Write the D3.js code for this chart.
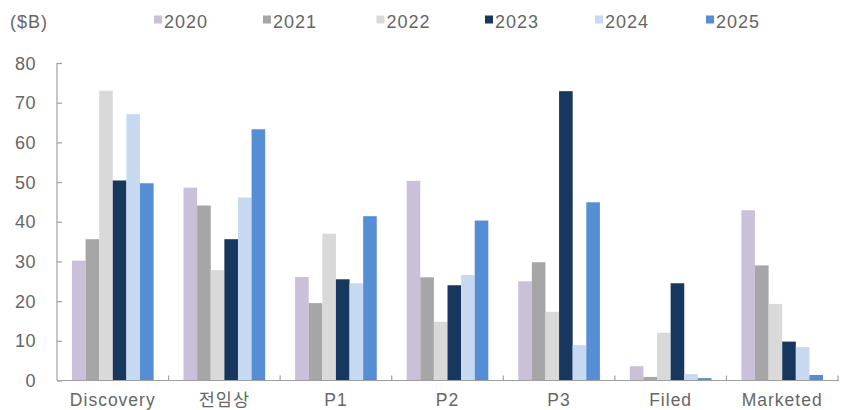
<!DOCTYPE html>
<html><head><meta charset="utf-8">
<script src="https://cdn.jsdelivr.net/npm/d3@7"></script>
<style>
html,body{margin:0;padding:0;background:#fff;}
svg{display:block;}
text{font-family:"Liberation Sans","Noto Sans CJK KR",Arial,sans-serif;fill:#666666;}
</style></head>
<body>
<svg id="chart" width="841" height="410"></svg>
<script>
const categories = ["Discovery","전임상","P1","P2","P3","Filed","Marketed"];
const years = ["2020","2021","2022","2023","2024","2025"];
const v2020 = [30.2,48.6,26.1,50.3,25.0,3.6,42.9];
const v2021 = [35.6,44.1,19.5,26.0,29.8,0.9,29.0];
const v2022 = [73.0,27.8,37.0,14.8,17.3,12.0,19.3];
const v2023 = [50.4,35.6,25.5,24.0,72.9,24.5,9.8];
const v2024 = [67.1,46.1,24.5,26.6,8.9,1.6,8.4];
const v2025 = [49.7,63.3,41.4,40.3,44.9,0.6,1.4];
const yTicks = [0,10,20,30,40,50,60,70,80];
const colors = ["#CAC0DA","#A6A6A6","#D9D9D9","#17375E","#C6D9F0","#558ED5"];
const unitLabel = "($B)";

(function(){
const seriesValues = [v2020,v2021,v2022,v2023,v2024,v2025];
const svg = d3.select("#chart");
const pL = 57, pR = 838, pT = 63, pB = 380.5;

const x0 = d3.scaleBand().domain(categories).range([pL,pR]).paddingInner(0).paddingOuter(0);
const x1 = d3.scaleBand().domain(years)
  .range([x0.bandwidth()*0.134, x0.bandwidth()*0.866]).paddingInner(0).paddingOuter(0);
const y = d3.scaleLinear().domain([0,80]).range([pB,pT]);

const g = svg.append("g");
categories.forEach((c,ci)=>{
  years.forEach((yr,si)=>{
    const v = seriesValues[si][ci];
    g.append("rect")
      .attr("x", x0(c)+x1(yr))
      .attr("y", y(v))
      .attr("width", x1.bandwidth())
      .attr("height", y(0)-y(v))
      .attr("fill", colors[si]);
  });
});

const yAxis = d3.axisRight(y).tickValues(yTicks).tickSize(5).tickFormat("");
const ya = svg.append("g").attr("transform",`translate(${pL},0)`).call(yAxis);
ya.select(".domain").attr("stroke","#A0A0A0").attr("stroke-width",1.2).attr("d",`M0,${pT}V${pB}`);
ya.selectAll(".tick line").attr("stroke","#A0A0A0").attr("stroke-width",1.2);
svg.append("g").selectAll("text").data(yTicks).join("text")
  .attr("x",36).attr("y",d=>y(d)+6.5).attr("text-anchor","end")
  .attr("font-size",18).attr("letter-spacing","0.5px").text(d=>d);

const xa = svg.append("g").attr("transform",`translate(0,${pB})`);
xa.append("line").attr("x1",pL).attr("x2",pR+1).attr("y1",0).attr("y2",0)
  .attr("stroke","#A0A0A0").attr("stroke-width",1.2);
const bounds = categories.map(c=>x0(c)+x0.bandwidth());
xa.selectAll("line.tk").data(bounds).join("line").attr("class","tk")
  .attr("x1",d=>d).attr("x2",d=>d).attr("y1",0).attr("y2",-5)
  .attr("stroke","#A0A0A0").attr("stroke-width",1.2);
xa.selectAll("text").data(categories).join("text")
  .attr("x",d=>x0(d)+x0.bandwidth()/2).attr("y",25)
  .attr("text-anchor","middle").attr("font-size",17.5)
  .attr("letter-spacing","1px").text(d=>d);

svg.append("text").attr("x",10).attr("y",28).attr("font-size",18)
  .attr("letter-spacing","1px").text(unitLabel);

const legX = [154,263,376.5,485,595,706];
const leg = svg.append("g");
years.forEach((yr,i)=>{
  leg.append("rect").attr("x",legX[i]).attr("y",15.5).attr("width",8).attr("height",8).attr("fill",colors[i]);
  leg.append("text").attr("x",legX[i]+10).attr("y",28).attr("font-size",18)
    .attr("letter-spacing","1px").text(yr);
});
})();
</script>
</body></html>
